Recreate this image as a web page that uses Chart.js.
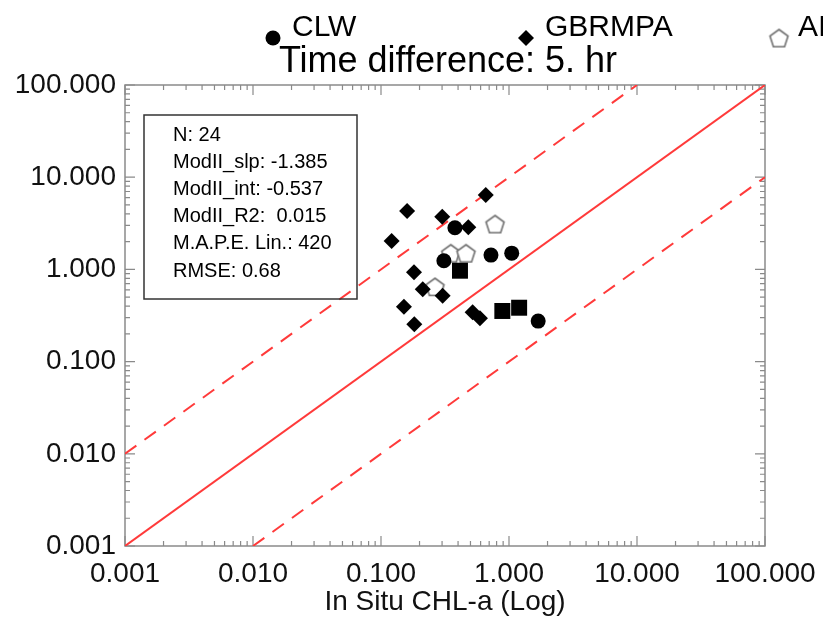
<!DOCTYPE html>
<html>
<head>
<meta charset="utf-8">
<script src="https://cdn.jsdelivr.net/npm/chart.js"></script>
<style>
  html, body { margin: 0; padding: 0; background: #fff; }
  canvas { display: block; }
</style>
</head>
<body>
<canvas id="grafico" width="823" height="619"></canvas>
<script>
const FONT = "'Liberation Sans', Arial, Helvetica, sans-serif";

// points: x = in situ CHL-a, y = satellite CHL-a
const clwX = [0.378, 0.310, 0.723, 1.05, 1.69];
const clwY = [2.83, 1.24, 1.43, 1.50, 0.275];
const gbrX = [0.658, 0.160, 0.301, 0.481, 0.121, 0.181, 0.212, 0.303, 0.151, 0.182, 0.520, 0.593];
const gbrY = [6.41, 4.30, 3.73, 2.86, 2.03, 0.93, 0.608, 0.519, 0.394, 0.254, 0.343, 0.295];
const aimsX = [0.778, 0.351, 0.461, 0.264];
const aimsY = [3.11, 1.50, 1.50, 0.649];
const imosX = [0.414, 0.887, 1.20];
const imosY = [0.968, 0.354, 0.384];

// 1:1 line and the x10 / x0.1 envelopes
const oneX = [0.001, 100];
const oneY = [0.001, 100];
const upX = [0.001, 10];
const upY = [0.01, 100];
const loX = [0.01, 100];
const loY = [0.001, 10];

const decades = [0.001, 0.01, 0.1, 1, 10, 100];
const statsLines = ['N: 24', 'ModII_slp: -1.385', 'ModII_int: -0.537', 'ModII_R2:  0.015', 'M.A.P.E. Lin.: 420', 'RMSE: 0.68'];
const titleText = 'Time difference: 5. hr';

const pts = (xs, ys) => xs.map((x, i) => ({ x: x, y: ys[i] }));

function makePentagon(r) {
  const s = Math.ceil(r * 2 + 4);
  const c = document.createElement('canvas');
  c.width = s; c.height = s;
  const g = c.getContext('2d');
  g.beginPath();
  for (let k = 0; k < 5; k++) {
    const a = -Math.PI / 2 + k * 2 * Math.PI / 5;
    const px = s / 2 + r * Math.cos(a);
    const py = s / 2 + 1 + r * Math.sin(a);
    if (k === 0) g.moveTo(px, py); else g.lineTo(px, py);
  }
  g.closePath();
  g.fillStyle = '#fff';
  g.fill();
  g.strokeStyle = '#707070';
  g.lineWidth = 1.6;
  g.stroke();
  return c;
}
const pentagon = makePentagon(9.5);

// frame with inward log ticks on all four sides
const framePlugin = {
  id: 'frame',
  beforeDatasetsDraw(chart) {
    const { ctx, chartArea: a, scales } = chart;
    ctx.save();
    ctx.strokeStyle = '#8a8a8a';
    ctx.lineWidth = 1.5;
    ctx.strokeRect(a.left, a.top, a.right - a.left, a.bottom - a.top);
    ctx.lineWidth = 1.2;
    ctx.beginPath();
    decades.forEach((d, i) => {
      const vals = [d];
      if (i < decades.length - 1) for (let k = 2; k <= 9; k++) vals.push(d * k);
      vals.forEach((v, j) => {
        const len = j === 0 ? 10 : 5;
        const px = scales.x.getPixelForValue(v);
        ctx.moveTo(px, a.bottom); ctx.lineTo(px, a.bottom - len);
        ctx.moveTo(px, a.top); ctx.lineTo(px, a.top + len);
        const py = scales.y.getPixelForValue(v);
        ctx.moveTo(a.left, py); ctx.lineTo(a.left + len, py);
        ctx.moveTo(a.right, py); ctx.lineTo(a.right - len, py);
      });
    });
    ctx.stroke();
    ctx.restore();
  }
};

// legend row, title and statistics box
const annotPlugin = {
  id: 'annot',
  afterDraw(chart) {
    const { ctx, chartArea: a } = chart;
    ctx.save();
    ctx.fillStyle = '#000';
    ctx.strokeStyle = '#000';
    ctx.font = '30px ' + FONT;
    ctx.textBaseline = 'alphabetic';
    ctx.textAlign = 'left';
    let n = 0;
    chart.data.datasets.forEach(ds => {
      if (ds.type === 'line') return;
      const mx = a.left + 148 + n * 253;
      const my = a.top - 47;
      if (Chart.helpers && Chart.helpers.drawPoint) {
        ctx.fillStyle = '#000';
        Chart.helpers.drawPoint(ctx, { pointStyle: ds.pointStyle, radius: ds.pointRadius, rotation: 0, borderWidth: 0 }, mx, my);
      }
      ctx.fillStyle = '#000';
      ctx.fillText(ds.label, mx + 19, a.top - 49);
      n++;
    });

    ctx.font = '36px ' + FONT;
    ctx.textAlign = 'center';
    ctx.fillText(titleText, (a.left + a.right) / 2 + 3, a.top - 13);

    const bx = a.left + 19, by = a.top + 30;
    ctx.strokeStyle = '#333';
    ctx.lineWidth = 1.5;
    ctx.strokeRect(bx, by, 213, 184);
    ctx.font = '20px ' + FONT;
    ctx.textAlign = 'left';
    ctx.textBaseline = 'middle';
    statsLines.forEach((t, i) => ctx.fillText(t, bx + 29, by + 20 + i * 27.2));
    ctx.restore();
  }
};

const logAxis = (extra) => Object.assign({
  type: 'logarithmic',
  min: 0.001,
  max: 100,
  afterBuildTicks: s => { s.ticks = decades.map(v => ({ value: v })); },
  grid: { display: false, drawTicks: false },
  border: { display: false },
  ticks: {
    callback: v => Number(v).toFixed(3),
    font: { family: FONT, size: 28 },
    color: '#111',
    autoSkip: false,
    maxRotation: 0
  }
}, extra);

const xAxis = logAxis({
  afterFit: s => { s.height = 73; s.paddingRight = 0; s.paddingLeft = 0; },
  title: { display: true, text: 'In Situ CHL-a (Log)', font: { family: FONT, size: 28 }, color: '#111', padding: { top: 0, bottom: 0 } }
});
xAxis.ticks.padding = 11;
const yAxis = logAxis({ afterFit: s => { s.width = 125; } });
yAxis.ticks = Object.assign({}, yAxis.ticks, { padding: 9 });

const refLine = (label, xs, ys, dash) => ({
  type: 'line', label: label, data: pts(xs, ys),
  borderColor: '#ff3a3a', borderWidth: 2, borderDash: dash,
  pointRadius: 0, fill: false, tension: 0, order: 10
});

new Chart(document.getElementById('grafico').getContext('2d'), {
  type: 'scatter',
  data: {
    datasets: [
      { label: 'CLW', data: pts(clwX, clwY), pointStyle: 'circle', pointRadius: 7.5, backgroundColor: '#000', borderWidth: 0, order: 3 },
      { label: 'GBRMPA', data: pts(gbrX, gbrY), pointStyle: 'rectRot', pointRadius: 8, backgroundColor: '#000', borderWidth: 0, order: 2 },
      { label: 'AIMS', data: pts(aimsX, aimsY), pointStyle: pentagon, pointRadius: 9, backgroundColor: '#fff', borderWidth: 0, order: 5 },
      { label: 'IMOS', data: pts(imosX, imosY), pointStyle: 'rect', pointRadius: 11.3, backgroundColor: '#000', borderWidth: 0, order: 1 },
      refLine('1:1', oneX, oneY, []),
      refLine('x10', upX, upY, [14, 10]),
      refLine('x0.1', loX, loY, [14, 10])
    ]
  },
  options: {
    responsive: false,
    animation: false,
    layout: { padding: { top: 85, right: 58, bottom: 0, left: 0 } },
    scales: { x: xAxis, y: yAxis },
    plugins: { legend: { display: false }, tooltip: { enabled: false } }
  },
  plugins: [framePlugin, annotPlugin]
});
</script>
</body>
</html>
